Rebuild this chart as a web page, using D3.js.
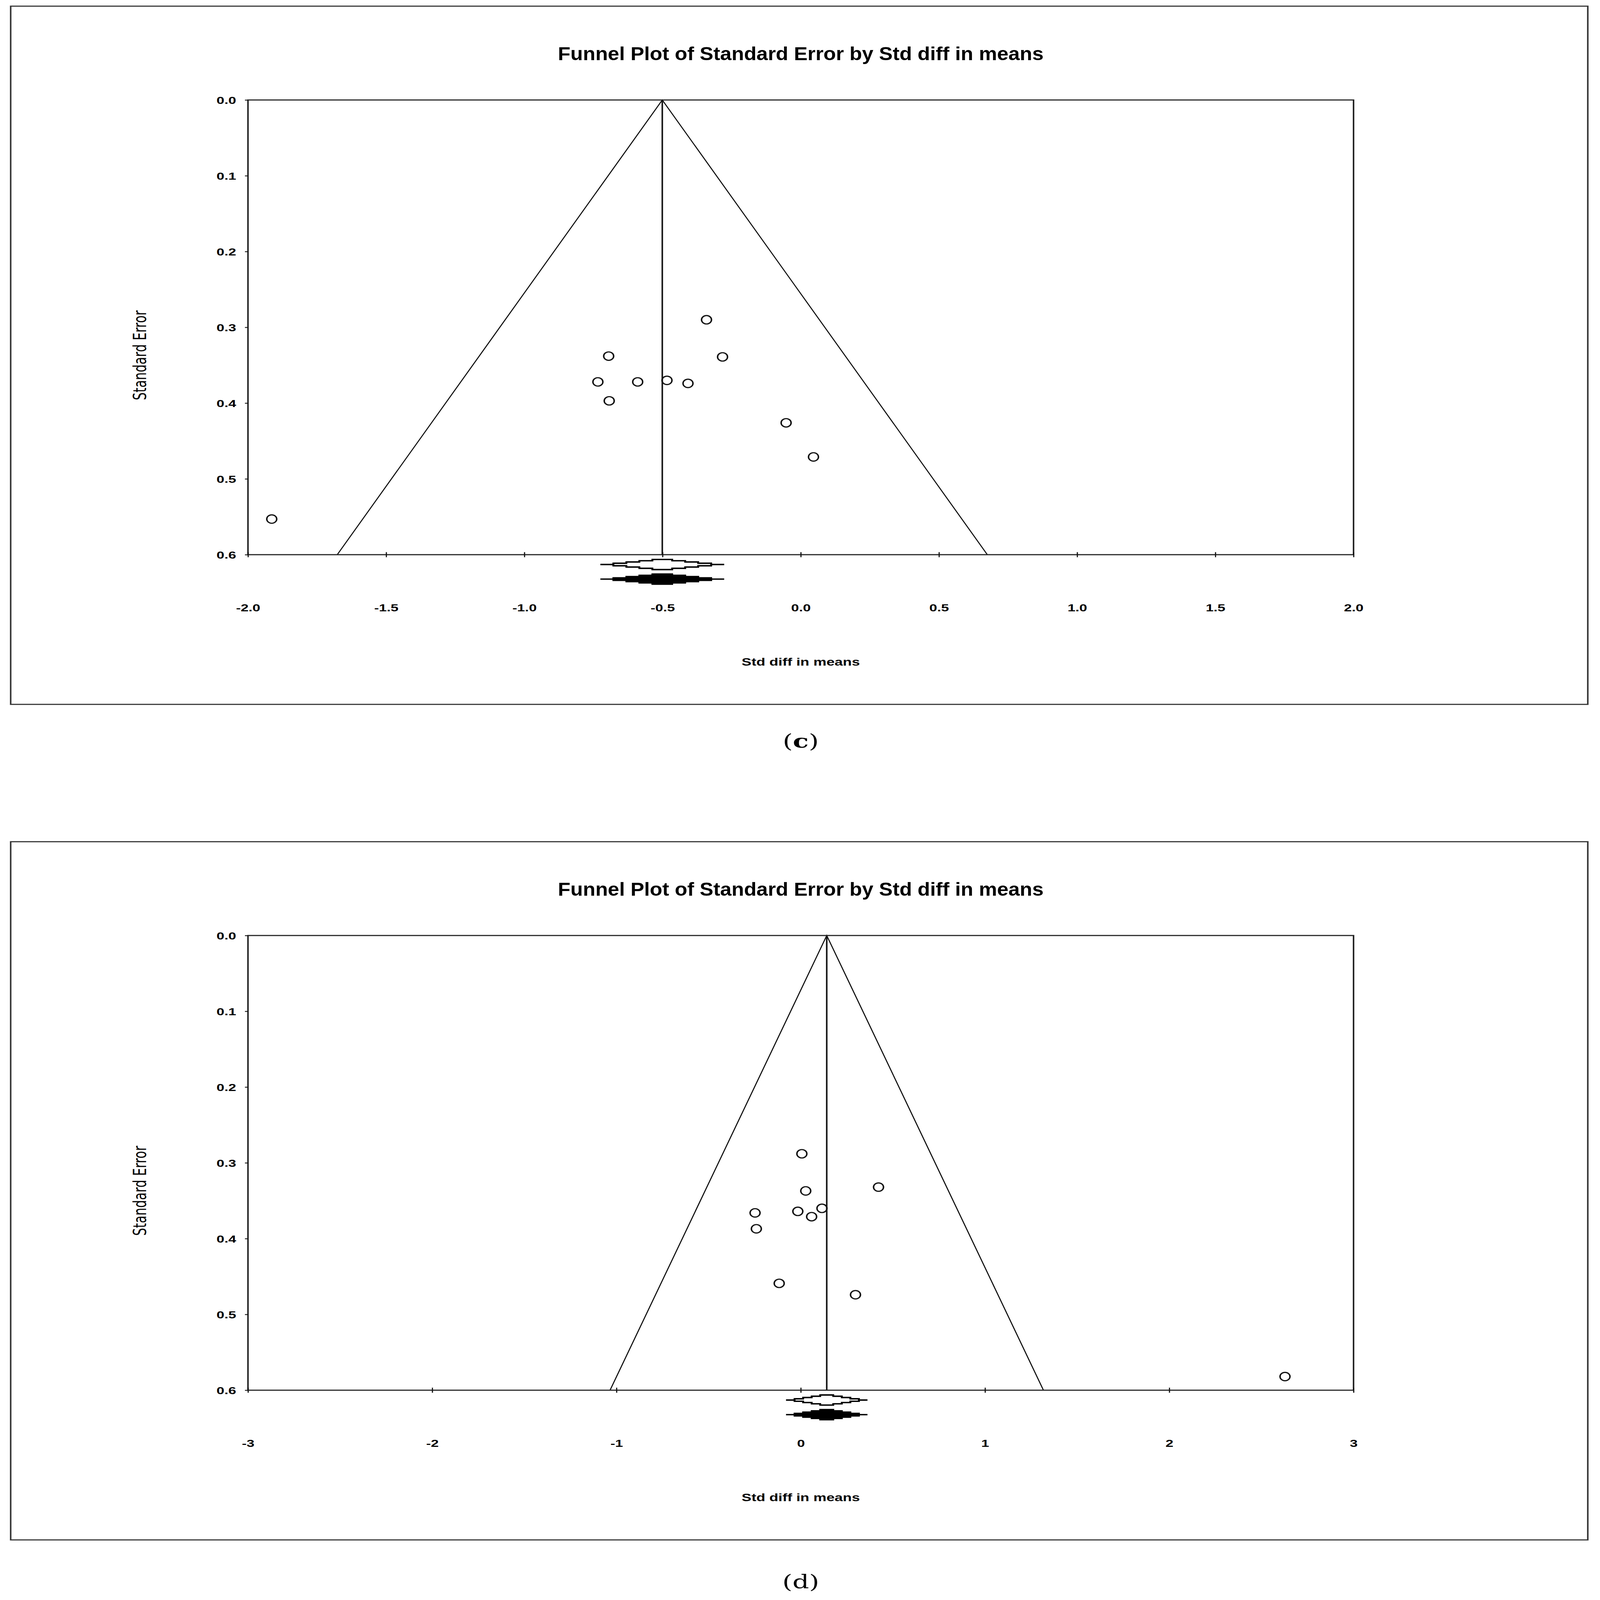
<!DOCTYPE html>
<html>
<head>
<meta charset="utf-8">
<script src="https://cdn.jsdelivr.net/npm/d3@7"></script>
<style>
  html, body { margin: 0; padding: 0; background: #fff; overflow: hidden; }
  svg { display: block; }
  .tick text { font-family: "Liberation Sans Narrow", "Liberation Sans", Arial, sans-serif; font-weight: bold; fill: #000; }
</style>
</head>
<body>
<svg id="chart"></svg>
<script>
// panel (c)
const studiesC = [-0.341, -0.695, -0.283, -0.734, -0.590, -0.484, -0.408, -0.693, -0.053, 0.046, -1.914];
const seC      = [0.290, 0.338, 0.339, 0.372, 0.372, 0.370, 0.374, 0.397, 0.426, 0.471, 0.553];
const pooledC  = { mean: -0.501, lower: -0.725, upper: -0.277 };
const xTicksC  = [-2.0, -1.5, -1.0, -0.5, 0.0, 0.5, 1.0, 1.5, 2.0];

// panel (d)
const studiesD = [0.006, 0.027, 0.422, -0.248, -0.016, 0.115, 0.059, -0.241, -0.117, 0.297, 2.628];
const seD      = [0.288, 0.337, 0.332, 0.366, 0.364, 0.360, 0.371, 0.387, 0.459, 0.474, 0.582];
const pooledD  = { mean: 0.141, lower: -0.080, upper: 0.362 };
const xTicksD  = [-3, -2, -1, 0, 1, 2, 3];

const yTicks = [0.0, 0.1, 0.2, 0.3, 0.4, 0.5, 0.6];

const W = 4194, H = 5697;
const svg = d3.select('#chart')
    .attr('viewBox', `0 0 ${W} ${H}`)
    .attr('preserveAspectRatio', 'none')
    .attr('width', window.innerWidth || W)
    .attr('height', window.innerHeight || H);
svg.append('rect').attr('width', W).attr('height', H).attr('fill', '#fff');

const narrow = '"Liberation Sans Narrow", "Liberation Sans", Arial, sans-serif';

function funnel(opts) {
    const g = svg.append('g').attr('transform', `translate(0,${opts.dy})`);

    const x = d3.scaleLinear().domain(opts.xDomain).range([650, 3548]);
    const y = d3.scaleLinear().domain([0, 0.6]).range([356, 1975]);

    //outer frame
    g.append('rect')
        .attr('x', 28).attr('y', 22)
        .attr('width', 4134).attr('height', 2486)
        .attr('fill', 'none').attr('stroke', '#333').attr('stroke-width', 4);

    g.append('text')
        .attr('x', 2099).attr('y', 214)
        .attr('text-anchor', 'middle')
        .attr('textLength', 1273).attr('lengthAdjust', 'spacingAndGlyphs')
        .style('font-family', narrow).style('font-weight', 'bold').style('font-size', '68px')
        .text('Funnel Plot of Standard Error by  Std diff in means');

    //funnel + mean line
    const seMax = 0.6;
    const z = 1.96;
    g.append('path')
        .attr('d', d3.line()([
            [x(opts.pooled.mean - z * seMax), y(seMax)],
            [x(opts.pooled.mean), y(0)],
            [x(opts.pooled.mean + z * seMax), y(seMax)]
        ]))
        .attr('fill', 'none').attr('stroke', '#111').attr('stroke-width', 3);
    g.append('line')
        .attr('x1', x(opts.pooled.mean)).attr('x2', x(opts.pooled.mean))
        .attr('y1', y(0)).attr('y2', y(seMax))
        .attr('stroke', '#111').attr('stroke-width', 4);

    //plot box
    g.append('rect')
        .attr('x', x.range()[0]).attr('y', y.range()[0])
        .attr('width', x.range()[1] - x.range()[0]).attr('height', y.range()[1] - y.range()[0])
        .attr('fill', 'none').attr('stroke', '#222').attr('stroke-width', 4);

    //axes
    const xAxis = g.append('g')
        .attr('transform', `translate(0,${y(0.6)})`)
        .call(d3.axisBottom(x).tickValues(opts.xTicks).tickFormat(opts.fmt).tickSize(9));
    xAxis.select('.domain').remove();
    xAxis.selectAll('.tick line').attr('y1', -9).attr('stroke', '#111').attr('stroke-width', 3);
    xAxis.selectAll('.tick text').attr('y', 202).attr('dy', 0).style('font-size', '37px');

    const yAxis = g.append('g')
        .attr('transform', `translate(${x.range()[0]},0)`)
        .call(d3.axisLeft(y).tickValues(yTicks).tickFormat(d => d.toFixed(1)).tickSize(8));
    yAxis.select('.domain').remove();
    yAxis.selectAll('.tick line').attr('stroke', '#111').attr('stroke-width', 3);
    yAxis.selectAll('.tick text').attr('x', -31).attr('dy', '0.36em').style('font-size', '37px');

    g.append('text')
        .attr('x', 2099).attr('y', 2370)
        .attr('text-anchor', 'middle')
        .attr('textLength', 310).attr('lengthAdjust', 'spacingAndGlyphs')
        .style('font-family', narrow).style('font-weight', 'bold').style('font-size', '39px')
        .text('Std diff in means');

    g.append('text')
        .attr('transform', 'translate(383,1265) rotate(-90)')
        .attr('text-anchor', 'middle')
        .attr('textLength', 320).attr('lengthAdjust', 'spacingAndGlyphs')
        .style('font-family', '"DejaVu Sans", "Liberation Sans", sans-serif').style('font-size', '48px')
        .text('Standard Error');

    //studies
    g.append('g').selectAll('ellipse')
        .data(opts.studies.map((d, i) => ({ x: d, se: opts.se[i] })))
        .join('ellipse')
        .attr('cx', d => x(d.x)).attr('cy', d => y(d.se))
        .attr('rx', 13).attr('ry', 15)
        .attr('fill', 'none').attr('stroke', '#111').attr('stroke-width', 4);

    //stepped diamonds (observed open, adjusted filled)
    const bounds = [-1, -0.79, -0.58, -0.37, -0.16, 0.16, 0.37, 0.58, 0.79, 1];
    const levels = [0, 0.25, 0.5, 0.75, 1, 0.75, 0.5, 0.25, 0];
    function diamond(cy, fill) {
        const m = x((opts.pooled.lower + opts.pooled.upper) / 2);
        const hw = (x(opts.pooled.upper) - x(opts.pooled.lower)) / 2;
        const h = 18;
        const pts = [];
        levels.forEach((k, i) => {
            pts.push([m + bounds[i] * hw, cy - k * h], [m + bounds[i + 1] * hw, cy - k * h]);
        });
        levels.slice().reverse().forEach((k, j) => {
            const i = levels.length - 1 - j;
            pts.push([m + bounds[i + 1] * hw, cy + k * h], [m + bounds[i] * hw, cy + k * h]);
        });
        g.append('path')
            .attr('d', d3.line()(pts) + 'Z')
            .attr('fill', fill).attr('stroke', '#000').attr('stroke-width', 5);
    }
    diamond(y(0.6) + 35, '#fff');
    diamond(y(0.6) + 87, '#000');

    g.append('text')
        .attr('x', 2099).attr('y', opts.labelY)
        .attr('text-anchor', 'middle')
        .style('font-family', '"DejaVu Serif", "Liberation Serif", serif').style('font-size', '68px')
        .html(opts.label);
}

funnel({
    dy: 0, xDomain: [-2, 2], xTicks: xTicksC, fmt: d => d.toFixed(1),
    studies: studiesC, se: seC, pooled: pooledC,
    labelY: 2662, label: '(<tspan font-weight="bold">c</tspan>)'
});
funnel({
    dy: 2975, xDomain: [-3, 3], xTicks: xTicksD, fmt: d => String(d),
    studies: studiesD, se: seD, pooled: pooledD,
    labelY: 2680, label: '(d)'
});
</script>
</body>
</html>
